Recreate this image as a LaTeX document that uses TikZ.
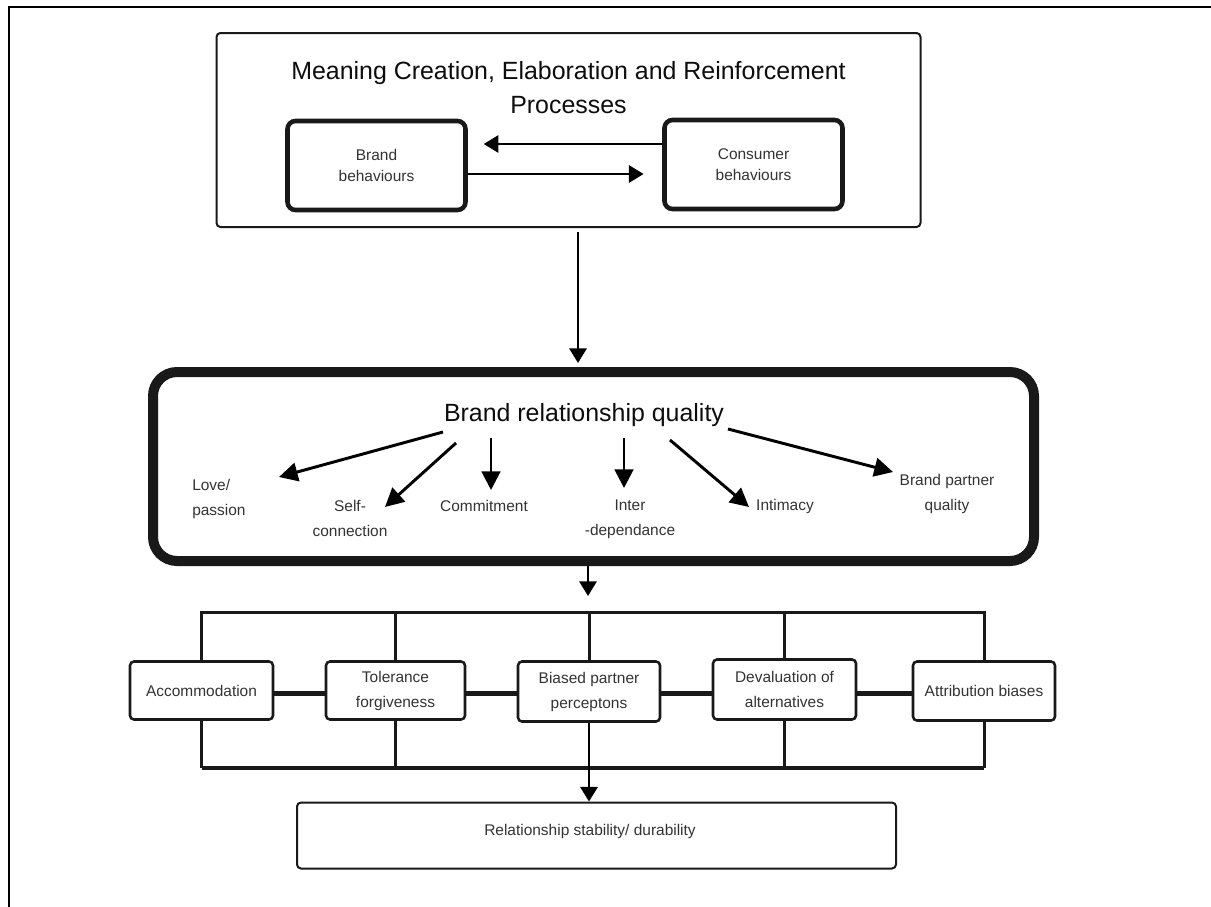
\documentclass[tikz,border=0pt]{standalone}
\usepackage{fontspec}
\setmainfont{Liberation Sans}
\usetikzlibrary{arrows.meta}
\begin{document}
\begin{tikzpicture}[x=0.75pt,y=-0.75pt,
  small/.style={font=\fontsize{11.6}{18.75}\selectfont, text=black!80, align=center, inner sep=0pt},
  bigtxt/.style={font=\fontsize{18.7}{25.5}\selectfont, text=black!95, align=center, inner sep=0pt},
  topbox/.style={draw=black!90, line width=1.5pt, rounded corners=3pt, minimum width=528pt, minimum height=145.5pt, inner sep=0pt},
  behbox/.style={draw=black!90, line width=3.4pt, rounded corners=6pt, minimum width=133.5pt, minimum height=66.75pt, small, font=\fontsize{11.6}{15.75}\selectfont},
  brqbox/.style={draw=black!90, line width=7.5pt, rounded corners=18pt, minimum width=660.75pt, minimum height=141.75pt, inner sep=0pt},
  rbox/.style={draw=black!90, line width=1.9pt, rounded corners=3pt, small},
  relbox/.style={draw=black!90, line width=1.5pt, rounded corners=3pt, small, minimum width=449.25pt, minimum height=49.5pt},
  arr/.style={draw=black, line width=1.6pt, -{Triangle[length=11pt,width=13pt]}},
  brqarr/.style={draw=black, line width=2.2pt, -{Triangle[length=14pt,width=14pt]}},
  bus/.style={draw=black!90, line width=2.25pt},
  busb/.style={draw=black!90, line width=3pt},
  link/.style={draw=black!90, line width=3.75pt},
]
\useasboundingbox (0,0) rectangle (1211,907);
% outer frame
\draw[line width=1.5pt] (9,907) -- (9,7) -- (1211,7);

% top section
\node[topbox] (top) at (568.5,130) {};
\node[bigtxt] (title) at (568.5,88) {Meaning Creation, Elaboration and Reinforcement\\Processes};
\node[behbox] (brand) at (376.5,165.5) {Brand\\behaviours};
\node[behbox] (cons) at (753.5,164.5) {Consumer\\behaviours};
\coordinate (ya) at (0,144);
\coordinate (yb) at (0,174);
\draw[arr, shorten >=12pt] (cons.west |- ya) -- (brand.east |- ya);
\draw[arr, shorten >=14pt] (brand.east |- yb) -- (cons.west |- yb);

% big box
\node[brqbox] (brq) at (593.5,466.5) {};
\coordinate (ax) at (578,0);
\draw[arr, shorten <=3pt, shorten >=3pt] (top.south -| ax) -- (brq.north -| ax);

\node[bigtxt] (brqt) at (584,415) {Brand relationship quality};

\node[small, anchor=west, align=left] (love) at (192,498.5) {Love/\\passion};
\node[small] (self) at (350,518) {Self-\\connection};
\node[small] (commit) at (484,506) {Commitment};
\node[small] (inter) at (630,519) {Inter\\-dependance};
\node[small] (intim) at (785,506) {Intimacy};
\node[small] (bpq) at (947,494) {Brand partner\\quality};

\coordinate (s1) at (443,432); \coordinate (t1) at (279,477);
\coordinate (s2) at (456,443); \coordinate (t2) at (385,507);
\coordinate (s3) at (491,438); \coordinate (t3) at (491,490);
\coordinate (s4) at (624,438); \coordinate (t4) at (624,488);
\coordinate (s5) at (670,440); \coordinate (t5) at (749,507);
\coordinate (s6) at (728,429); \coordinate (t6) at (893,472);
\draw[brqarr] (s1) -- (t1);
\draw[brqarr] (s2) -- (t2);
\draw[brqarr] (s3) -- (t3);
\draw[brqarr] (s4) -- (t4);
\draw[brqarr] (s5) -- (t5);
\draw[brqarr] (s6) -- (t6);

% bus coordinates
\coordinate (tb) at (0,612);
\coordinate (bb) at (0,768);
\coordinate (ly) at (0,693);
\coordinate (busin) at (588,596);
\draw[arr] (brq.south -| busin) -- (busin);

% row of boxes
\node[rbox, minimum width=107.25pt, minimum height=43.5pt] (acc) at (201.5,690.5) {Accommodation};
\node[rbox, minimum width=104.25pt, minimum height=43.5pt] (tol) at (395.5,690.5) {Tolerance\\forgiveness};
\node[rbox, minimum width=106.5pt, minimum height=45pt] (bias) at (589,691.5) {Biased partner\\perceptons};
\node[rbox, minimum width=107.25pt, minimum height=45pt] (dev) at (784.5,689.5) {Devaluation of\\alternatives};
\node[rbox, minimum width=106.5pt, minimum height=44.25pt] (att) at (984,691) {Attribution biases};

% top bus
\draw[bus] (acc.north) -- (acc.north |- tb) -- (att.north |- tb) -- (att.north);
\draw[bus] (tol.north) -- (tol.north |- tb);
\draw[bus] (bias.north) -- (bias.north |- tb);
\draw[bus] (dev.north) -- (dev.north |- tb);
% bottom bus
\draw[bus] (acc.south) -- (acc.south |- bb);
\draw[bus] (tol.south) -- (tol.south |- bb);
\draw[bus] (dev.south) -- (dev.south |- bb);
\draw[bus] (att.south) -- (att.south |- bb);
\draw[busb] (acc.south |- bb) -- (att.south |- bb);
% links
\draw[link] (acc.east |- ly) -- (tol.west |- ly);
\draw[link] (tol.east |- ly) -- (bias.west |- ly);
\draw[link] (bias.east |- ly) -- (dev.west |- ly);
\draw[link] (dev.east |- ly) -- (att.west |- ly);

% result box
\node[relbox] (rel) at (596.5,835.5) {};
\node[small] (relt) at (590,831) {Relationship stability/ durability};
\draw[arr, line width=1.9pt] (bias.south) -- (bias.south |- rel.north);
\end{tikzpicture}
\end{document}
